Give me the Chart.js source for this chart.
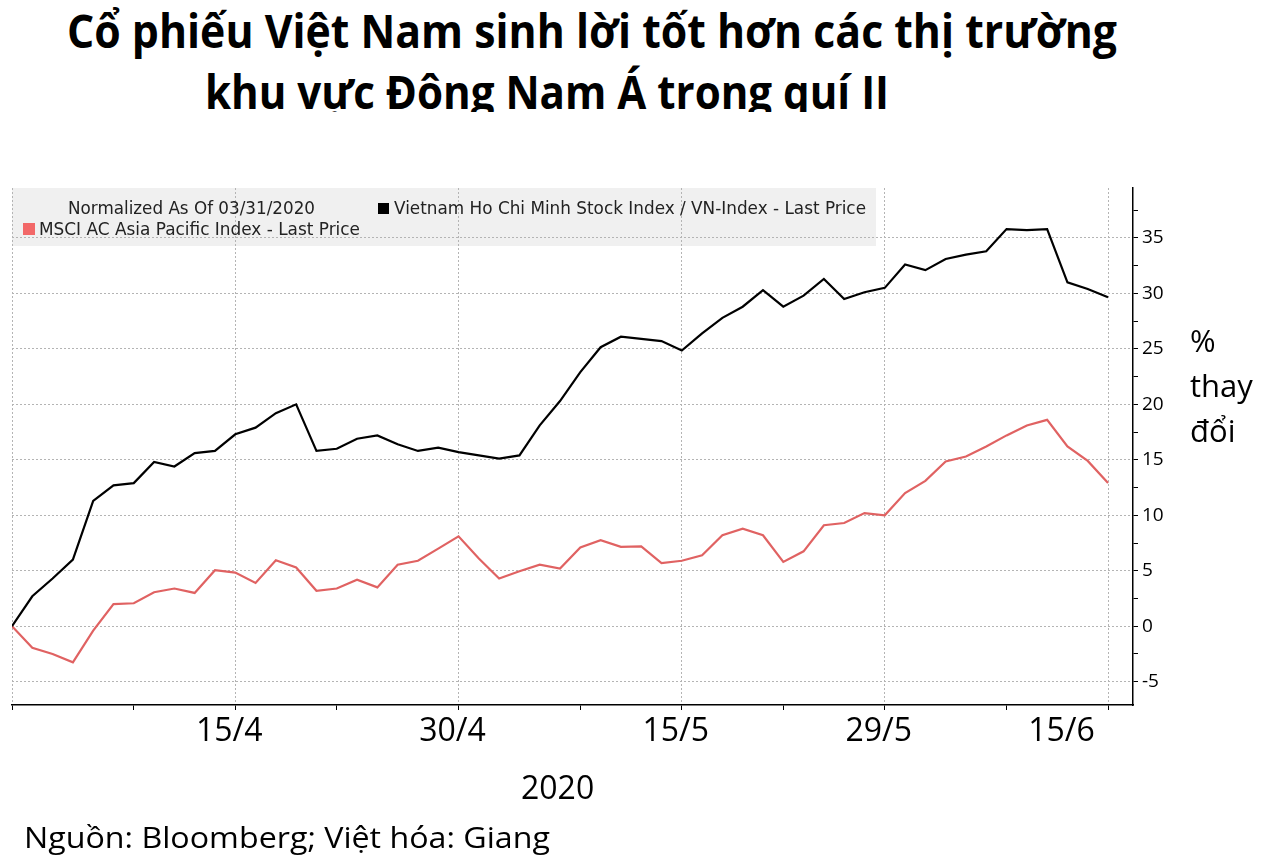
<!DOCTYPE html>
<html lang="vi">
<head>
<meta charset="utf-8">
<title>Cổ phiếu Việt Nam sinh lời tốt hơn các thị trường khu vực Đông Nam Á trong quí II</title>
<script src="https://cdn.jsdelivr.net/npm/chart.js@4.4.1/dist/chart.umd.min.js"></script>
<style>
  html, body { margin: 0; padding: 0; background: #fff; }
  body { width: 1266px; height: 866px; position: relative; overflow: hidden; font-family: 'Open Sans', sans-serif; color: #000; }
  .abs { position: absolute; white-space: nowrap; }
  .fit { display: inline-block; transform-origin: left center; }
  #titlebox { position: absolute; left: 0; top: 0; width: 1266px; height: 112px; overflow: hidden; }
  .title { font-weight: 700; font-size: 46px; line-height: 46px; }
  #legendbox { position: absolute; left: 12px; top: 188px; width: 864px; height: 58px; background: #f0f0f0; z-index: 0; }
  #wrap { position: absolute; left: 0; top: 0; width: 1266px; height: 866px; z-index: 1; }
  .leg { font-family: 'DejaVu Sans', sans-serif; font-size: 18px; line-height: 20px; color: #222; z-index: 2; }
  .sq { position: absolute; width: 11px; height: 11px; z-index: 2; }
  #ylab { left: 1190px; top: 318px; font-size: 31px; line-height: 45px; z-index: 2; }
  #xlab { left: 521px; top: 771px; font-size: 32px; line-height: 32px; z-index: 2; }
  #src { left: 24px; top: 822px; font-size: 30px; line-height: 30px; z-index: 2; }
</style>
</head>
<body>
<div id="titlebox">
  <div class="abs title fit" data-w="1050" style="left:67px; top:7px;">Cổ phiếu Việt Nam sinh lời tốt hơn các thị trường</div>
  <div class="abs title fit" data-w="684" style="left:205px; top:68px;">khu vực Đông Nam Á trong quí II</div>
</div>

<div id="legendbox"></div>
<div id="wrap"><canvas id="chart"></canvas></div>

<div class="abs leg fit" data-w="247" style="left:68px; top:198px;">Normalized As Of 03/31/2020</div>
<div class="sq" style="left:378px; top:203px; background:#000;"></div>
<div class="abs leg fit" data-w="472" style="left:394px; top:198px;">Vietnam Ho Chi Minh Stock Index / VN-Index - Last Price</div>
<div class="sq" style="left:23px; top:223px; width:12px; height:12px; background:#f26868;"></div>
<div class="abs leg fit" data-w="321" style="left:39px; top:219px;">MSCI AC Asia Pacific Index - Last Price</div>

<div id="ylab" class="abs">%<br>thay<br>đổi</div>
<div id="xlab" class="abs">2020</div>
<div id="src" class="abs fit" data-w="526">Nguồn: Bloomberg; Việt hóa: Giang</div>

<script>
// ---- Data (weekday trading dates, % change normalized as of 31/3/2020) ----
const dates = ['31/3','1/4','2/4','3/4','6/4','7/4','8/4','9/4','10/4','13/4','14/4','15/4','16/4','17/4','20/4','21/4','22/4','23/4','24/4','27/4','28/4','29/4','30/4',
  '1/5','4/5','5/5','6/5','7/5','8/5','11/5','12/5','13/5','14/5','15/5','18/5','19/5','20/5','21/5','22/5','25/5','26/5','27/5','28/5','29/5',
  '1/6','2/6','3/6','4/6','5/6','8/6','9/6','10/6','11/6','12/6','15/6'];

const vnIndex = [0, 2.7, 4.3, 6.0, 11.3, 12.7, 12.9, 14.8, 14.4, 15.6, 15.8, 17.3, 17.9, 19.2, 20.0, 15.8, 16.0, 16.9, 17.2, 16.4, 15.8, 16.1, 15.7,
  15.4, 15.1, 15.4, 18.1, 20.3, 22.9, 25.15, 26.1, 25.9, 25.7, 24.85, 26.4, 27.8, 28.8, 30.3, 28.8, 29.8, 31.3, 29.5, 30.1, 30.5,
  32.6, 32.1, 33.1, 33.5, 33.8, 35.8, 35.7, 35.8, 31.0, 30.4, 29.65];

const msciAsiaPac = [0, -1.95, -2.5, -3.25, -0.4, 2.0, 2.07, 3.06, 3.4, 3.0, 5.05, 4.84, 3.9, 5.95, 5.3, 3.2, 3.4, 4.2, 3.5, 5.55, 5.9, 7.0, 8.1,
  6.1, 4.3, 4.95, 5.55, 5.2, 7.1, 7.75, 7.15, 7.2, 5.7, 5.9, 6.4, 8.2, 8.8, 8.2, 5.8, 6.75, 9.1, 9.3, 10.2, 10.0,
  12.0, 13.1, 14.85, 15.3, 16.2, 17.2, 18.1, 18.6, 16.2, 14.9, 12.9];

const seriesNames = ['Vietnam Ho Chi Minh Stock Index / VN-Index - Last Price', 'MSCI AC Asia Pacific Index - Last Price'];

// x axis: tick marks, grid lines and labels (by trading-day index)
const xMarkIdx = [0, 6, 11, 16, 22, 28, 33, 38, 43, 49, 54];
const xGridIdx = [0, 11, 22, 33, 43, 54];
const xLabelIdx = [11, 22, 33, 43, 52];
const xTickLabels = ['15/4', '30/4', '15/5', '29/5', '15/6'];

// y axis ticks (labels on multiples of 5)
const yTickVals = [-5, -2.5, 0, 2.5, 5, 7.5, 10, 12.5, 15, 17.5, 20, 22.5, 25, 27.5, 30, 32.5, 35, 37.5];

// ---- fit text widths ----
function fitTexts() {
  document.querySelectorAll('.fit').forEach(el => {
    el.style.transform = 'none';
    const w = el.getBoundingClientRect().width;
    if (w > 0) el.style.transform = 'scaleX(' + (parseFloat(el.dataset.w) / w) + ')';
  });
}
fitTexts();

const GRID = '#b4b4b4';
const NONE = 'rgba(0,0,0,0)';
const allX = [...new Set([...xMarkIdx, ...xLabelIdx])].sort((a, b) => a - b);

const chart = new Chart(document.getElementById('chart'), {
  type: 'line',
  data: {
    datasets: [
      { label: seriesNames[0], data: vnIndex.map((v, i) => ({ x: i, y: v })), borderColor: '#000', borderWidth: 2.2, pointRadius: 0, tension: 0 },
      { label: seriesNames[1], data: msciAsiaPac.map((v, i) => ({ x: i, y: v })), borderColor: '#e06262', borderWidth: 2.2, pointRadius: 0, tension: 0 }
    ]
  },
  options: {
    responsive: true,
    maintainAspectRatio: false,
    animation: false,
    events: [],
    layout: { padding: { left: 12, top: 188, right: 73, bottom: 40 } },
    plugins: { legend: { display: false }, tooltip: { enabled: false }, title: { display: false } },
    scales: {
      x: {
        type: 'linear',
        min: 0,
        max: 55.23,
        afterBuildTicks: s => { s.ticks = allX.map(v => ({ value: v })); },
        afterFit: s => { s.height = 121; },
        ticks: {
          autoSkip: false, maxRotation: 0, minRotation: 0, padding: 3, labelOffset: -6, color: '#000',
          font: { family: 'Open Sans', size: 32 },
          callback: v => { const k = xLabelIdx.indexOf(v); return k >= 0 ? xTickLabels[k] : ''; }
        },
        grid: {
          color: c => (c.tick && xGridIdx.includes(c.tick.value)) ? GRID : NONE,
          tickColor: c => (c.tick && xMarkIdx.includes(c.tick.value)) ? '#000' : NONE,
          tickLength: 5, lineWidth: 1, tickWidth: 1, borderDash: [2, 2]
        },
        border: { display: true, color: '#000', width: 1.5, dash: [2, 2] }
      },
      y: {
        position: 'right',
        min: -7.1,
        max: 39.5,
        afterBuildTicks: s => { s.ticks = yTickVals.map(v => ({ value: v })); },
        afterFit: s => { s.width = 60; },
        ticks: {
          autoSkip: false, padding: 4, color: '#000',
          font: { family: 'Open Sans', size: 19 },
          callback: v => (v % 5 === 0 ? String(v) : '')
        },
        grid: {
          color: c => (c.tick && c.tick.value % 5 === 0) ? GRID : NONE,
          tickColor: '#000', tickLength: 5, lineWidth: 1, tickWidth: 1, borderDash: [2, 2]
        },
        border: { display: true, color: '#000', width: 1.5, dash: [2, 2] }
      }
    }
  }
});

if (document.fonts && document.fonts.ready) {
  document.fonts.ready.then(() => { fitTexts(); chart.update('none'); });
}
</script>
</body>
</html>
